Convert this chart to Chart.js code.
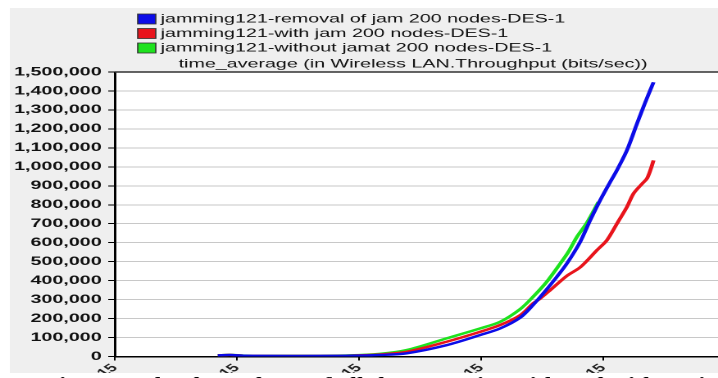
<!DOCTYPE html>
<html>
<head>
<meta charset="utf-8">
<script src="https://cdn.jsdelivr.net/npm/chart.js@4.4.1/dist/chart.umd.min.js"></script>
<style>
  html, body { margin: 0; padding: 0; background: #fff; overflow: hidden; }
  /* the source picture is stretched sideways, so the chart is drawn narrow and widened */
  #wrap { width: 438px; height: 378px; transform: scaleX(1.6393); transform-origin: 0 0; }
</style>
</head>
<body>
<div id="wrap"><canvas id="chart" width="438" height="378"></canvas></div>
<script>
const SERIES_NAMES = [
    `jamming121-removal of jam 200 nodes-DES-1`,
    `jamming121-with jam 200 nodes-DES-1`,
    `jamming121-without jamat 200 nodes-DES-1`
]
const SERIES_COLORS = [`#0c0ce8`, `#e8141c`, `#1ee21e`]
const TITLE = `time_average (in Wireless LAN.Throughput (bits/sec))`
const CAPTION = `Figure 3 The throughput of all the scenarios with and without jam`

const X_TICKS = [0, 1, 2, 3, 4]
const TICK_LABELS = [`15`, `15`, `15`, `15`, `15`]

const BLUE_X = [0.844, 0.943, 1.066, 1.516, 1.926, 2.172, 2.391, 2.719, 2.992, 3.156, 3.320, 3.426, 3.525, 3.620, 3.702, 3.811, 3.893, 3.975, 4.057, 4.112, 4.194, 4.276, 4.344, 4.412]
const BLUE_Y = [6000, 8000, 4000, 3000, 4000, 8000, 17000, 60000, 113000, 148000, 205000, 272000, 345000, 420000, 490000, 604000, 718000, 824000, 920000, 982000, 1087000, 1227000, 1340000, 1446000]

const RED_X = [0.844, 0.943, 1.066, 1.516, 1.926, 2.172, 2.391, 2.719, 2.992, 3.156, 3.320, 3.426, 3.484, 3.566, 3.702, 3.811, 3.948, 4.030, 4.112, 4.194, 4.248, 4.317, 4.358, 4.385, 4.412]
const RED_Y = [6000, 8000, 4000, 3000, 5000, 11000, 25000, 78000, 130000, 166000, 218000, 280000, 306000, 350000, 425000, 470000, 560000, 613000, 700000, 788000, 859000, 910000, 938000, 980000, 1034000]

const GREEN_X = [0.844, 0.943, 1.066, 1.516, 1.926, 2.172, 2.391, 2.719, 2.992, 3.156, 3.320, 3.426, 3.539, 3.648, 3.713, 3.784, 3.866, 3.961]
const GREEN_Y = [6000, 9000, 5000, 4000, 6000, 14000, 34000, 96000, 148000, 183000, 250000, 315000, 395000, 490000, 550000, 630000, 705000, 815000]

const FONT = `"Liberation Sans", Arial, sans-serif`

const points = (xs, ys) => xs.map((x, i) => ({x: x, y: ys[i]}))

const frame = {
    id: `frame`,
    beforeDraw: (chart) => {
        const {ctx, chartArea: a} = chart
        ctx.save()
        ctx.fillStyle = `#fff`
        ctx.fillRect(0, 0, chart.width, chart.height)
        ctx.fillStyle = `#efefef`
        ctx.fillRect(6, 8, chart.width - 6, 365)
        ctx.fillStyle = `#fff`
        ctx.fillRect(a.left, a.top, a.right - a.left, a.bottom - a.top)
        ctx.restore()
    },
    afterDraw: (chart) => {
        const {ctx, chartArea: a} = chart
        ctx.save()
        // top frame line
        ctx.strokeStyle = `#333`
        ctx.lineWidth = 1.5
        ctx.beginPath()
        ctx.moveTo(a.left, a.top)
        ctx.lineTo(a.right, a.top)
        ctx.stroke()

        ctx.fillStyle = `#111`
        ctx.font = `12px ${FONT}`
        ctx.textAlign = `center`
        ctx.textBaseline = `middle`
        ctx.fillText(TITLE, 252, 64)

        // legend, one row per series
        ctx.textAlign = `left`
        SERIES_NAMES.forEach((name, i) => {
            const y = 19 + i * 14.5
            ctx.fillStyle = SERIES_COLORS[i]
            ctx.fillRect(84, y - 5, 11, 10)
            ctx.strokeStyle = `#333`
            ctx.lineWidth = 0.8
            ctx.strokeRect(84, y - 5, 11, 10)
            ctx.fillStyle = `#111`
            ctx.fillText(name, 98, y)
        })

        // caption strip, cut off at the bottom edge
        ctx.fillStyle = `#fff`
        ctx.fillRect(0, 373, chart.width, chart.height - 373)
        ctx.fillStyle = `#000`
        ctx.font = `bold 15px "Liberation Serif", "Times New Roman", serif`
        ctx.textBaseline = `top`
        ctx.fillText(CAPTION, 27, 376)
        ctx.restore()
    }
}

const line = (i, xs, ys) => ({
    label: SERIES_NAMES[i],
    data: points(xs, ys),
    borderColor: SERIES_COLORS[i],
    borderWidth: 2.4,
    pointRadius: 0,
    tension: 0.3,
    fill: false
})

new Chart(document.getElementById(`chart`), {
    type: `line`,
    data: {
        datasets: [
            line(0, BLUE_X, BLUE_Y),
            line(1, RED_X, RED_Y),
            line(2, GREEN_X, GREEN_Y)
        ]
    },
    options: {
        responsive: false,
        animation: false,
        devicePixelRatio: 2,
        layout: {padding: {top: 72, left: 0, right: 0, bottom: 0}},
        plugins: {legend: {display: false}, tooltip: {enabled: false}},
        scales: {
            x: {
                type: `linear`,
                min: 0,
                max: 4.94,
                afterBuildTicks: (s) => { s.ticks = X_TICKS.map((v) => ({value: v})) },
                afterFit: (s) => { s.height = 21.5 },
                grid: {drawOnChartArea: false, tickLength: 4, tickColor: `#000`},
                border: {color: `#000`, width: 1.5},
                ticks: {
                    autoSkip: false,
                    maxRotation: 45,
                    minRotation: 45,
                    padding: 1,
                    color: `#222`,
                    font: {family: FONT, size: 11, weight: `bold`},
                    callback: (v, i) => TICK_LABELS[i]
                }
            },
            y: {
                min: 0,
                max: 1500000,
                afterFit: (s) => { s.width = 70 },
                grid: {color: `#c8c8c8`, tickColor: `#000`, tickLength: 4},
                border: {color: `#000`, width: 1.5},
                ticks: {
                    stepSize: 100000,
                    padding: 4,
                    color: `#111`,
                    font: {family: FONT, size: 12, weight: `bold`},
                    callback: (v) => v.toLocaleString(`en-US`)
                }
            }
        }
    },
    plugins: [frame]
})
</script>
</body>
</html>
